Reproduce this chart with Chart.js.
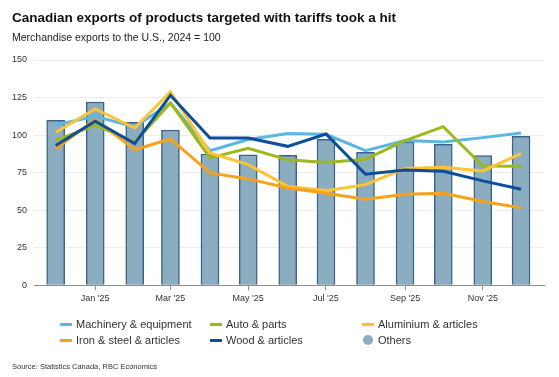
<!DOCTYPE html>
<html>
<head>
<meta charset="utf-8">
<script src="https://cdn.jsdelivr.net/npm/chart.js@4.4.1/dist/chart.umd.min.js"></script>
<style>
  body { margin: 0; background: #fff; font-family: "Liberation Sans", Arial, sans-serif; }
  #wrap { position: relative; width: 559px; height: 377px; overflow: hidden; }
  #chart { position: absolute; left: 0; top: 0; }
  .title { position: absolute; left: 12px; top: 11px; font-size: 13.5px; font-weight: bold; color: #111; line-height: 1; white-space: nowrap; }
  .subtitle { position: absolute; left: 12px; top: 32px; font-size: 10.5px; color: #222; line-height: 1; white-space: nowrap; }
  #legend { position: absolute; left: 60px; top: 316px; display: grid; grid-template-columns: 150px 152px 150px; grid-auto-rows: 16px; }
  .item { display: flex; align-items: center; font-size: 11px; color: #333; white-space: nowrap; }
  .sw { display: inline-block; width: 12px; height: 3px; margin-right: 4px; }
  .dot { display: inline-block; width: 10px; height: 10px; border-radius: 50%; margin: 0 5px 0 1px; }
  .source { position: absolute; left: 12px; top: 363px; font-size: 7.5px; color: #333; line-height: 1; white-space: nowrap; }
</style>
</head>
<body>
<div id="wrap">
  <canvas id="chart" width="559" height="377"></canvas>
  <div class="title">Canadian exports of products targeted with tariffs took a hit</div>
  <div class="subtitle">Merchandise exports to the U.S., 2024 = 100</div>
  <div id="legend"></div>
  <div class="source">Source: Statistics Canada, RBC Economics</div>
</div>
<script>
// monthly observations, Dec 2024 to Dec 2025
const months = ['2024-12-01', '2025-01-01', '2025-02-01', '2025-03-01', '2025-04-01', '2025-05-01', '2025-06-01',
  '2025-07-01', '2025-08-01', '2025-09-01', '2025-10-01', '2025-11-01', '2025-12-01'];

const machinery = [106.7, 112.5, 105.4, 121.4, 89.6, 97.0, 101.0, 100.5, 89.6, 96.3, 95.4, 98.3, 101.4];
const autoParts = [96.5, 106.7, 95.2, 121.4, 84.8, 91.2, 83.5, 81.7, 83.9, 96.3, 105.6, 79.4, 79.2];
const aluminium = [101.9, 117.4, 104.7, 128.7, 88.1, 80.3, 65.8, 63.0, 67.0, 77.7, 78.6, 76.1, 87.7];
const ironSteel = [90.8, 110.3, 90.3, 97.4, 74.8, 70.8, 64.8, 61.2, 57.3, 60.6, 61.2, 55.7, 51.5];
const wood = [93.0, 109.2, 94.3, 126.5, 98.1, 98.1, 92.5, 100.7, 73.9, 76.8, 75.9, 69.5, 63.9];
const others = [109.8, 122.0, 108.5, 103.4, 87.4, 86.8, 86.5, 97.2, 88.5, 95.4, 93.9, 86.3, 99.2];

const tickMonths = ['2025-01-01', '2025-03-01', '2025-05-01', '2025-07-01', '2025-09-01', '2025-11-01'];
const tickLabels = ["Jan '25", "Mar '25", "May '25", "Jul '25", "Sep '25", "Nov '25"];

const dayOf = (d) => (Date.parse(d) - Date.parse(months[0])) / 86400000;
const toPoints = (vals) => vals.map((v, i) => ({ x: dayOf(months[i]), y: v }));

const lineSet = (label, data, color, order) => ({
  type: 'line',
  label,
  data: toPoints(data),
  borderColor: color,
  backgroundColor: color,
  borderWidth: 3,
  pointRadius: 0,
  tension: 0,
  order
});

const datasets = [
  lineSet('Machinery & equipment', machinery, '#5cb6e4', 5),
  lineSet('Auto & parts', autoParts, '#9cb81c', 4),
  lineSet('Aluminium & articles', aluminium, '#fdc433', 3),
  lineSet('Iron & steel & articles', ironSteel, '#f8a21c', 2),
  lineSet('Wood & articles', wood, '#0b4f99', 1),
  {
    type: 'bar',
    label: 'Others',
    data: toPoints(others),
    backgroundColor: '#8aaec0',
    borderColor: '#3f6388',
    borderWidth: 1.5,
    barThickness: 18,
    order: 10
  }
];

Chart.defaults.font.family = '"Liberation Sans", Arial, sans-serif';

const chart = new Chart(document.getElementById('chart'), {
  data: { datasets },
  options: {
    responsive: false,
    animation: false,
    layout: { padding: { top: 60, left: 5, right: 15, bottom: 70 } },
    plugins: {
      legend: { display: false },
      tooltip: { enabled: false }
    },
    scales: {
      x: {
        type: 'linear',
        offset: false,
        min: -17,
        max: 383,
        afterBuildTicks: (scale) => {
          scale.ticks = tickMonths.map(m => ({ value: dayOf(m) }));
        },
        ticks: {
          autoSkip: false,
          maxRotation: 0,
          padding: 3,
          color: '#333',
          font: { size: 9 },
          callback: (v, i) => tickLabels[i]
        },
        grid: { offset: false, drawOnChartArea: false, tickLength: 5, tickColor: '#8c8c8c' },
        border: { color: '#8c8c8c', width: 1 }
      },
      y: {
        min: 0,
        max: 150,
        ticks: { stepSize: 25, padding: 7, color: '#333', font: { size: 9 } },
        grid: { color: '#ececec', drawTicks: false },
        border: { display: false }
      }
    }
  }
});

// html legend in three columns, built from the chart's datasets
const legendEl = document.getElementById('legend');
chart.data.datasets.forEach(ds => {
  const item = document.createElement('div');
  item.className = 'item';
  const mark = document.createElement('span');
  mark.className = ds.type === 'bar' ? 'dot' : 'sw';
  mark.style.background = ds.backgroundColor;
  item.appendChild(mark);
  item.appendChild(document.createTextNode(ds.label));
  legendEl.appendChild(item);
});
</script>
</body>
</html>
